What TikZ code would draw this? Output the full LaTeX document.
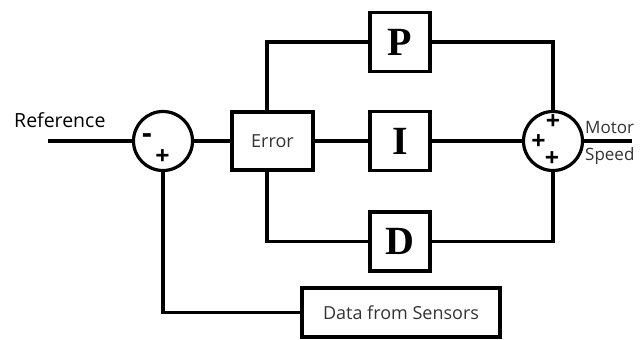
\documentclass[tikz,border=0pt]{standalone}
\usepackage{fontspec}
\setmainfont{Open Sans}
\newfontfamily\pidfont{Liberation Serif}
\usetikzlibrary{positioning}

\begin{document}
\begin{tikzpicture}[x=1pt, y=-1pt,
        every node/.style={font=\fontsize{18}{21}\selectfont},
        wire/.style={line width=3.2pt},
        sumnode/.style={draw, circle, line width=3.2pt, minimum size=59pt, inner sep=0pt},
        block/.style={draw, line width=3.2pt, minimum width=60pt, minimum height=59pt,
                      inner sep=0pt, font=\pidfont\bfseries\fontsize{40}{40}\selectfont},
        txtbox/.style={draw, line width=3.2pt, inner sep=0pt, text=black!80},
        sign/.style={inner sep=0pt, font=\bfseries\fontsize{25}{25}\selectfont},
        lbl/.style={inner sep=0pt, anchor=base west}
      ]
        \useasboundingbox (0,0) rectangle (641,340);

        \node[sumnode]                      (S1)  at (163,141) {};
        \node[txtbox, minimum width=81pt, minimum height=58pt] (Err) at (272.5,141) {Error};
        \node[block]                        (P)   at (400,42)  {P};
        \node[block]                        (I)   at (400,141) {I};
        \node[block]                        (D)   at (400,241.5) {D};
        \node[sumnode]                      (S2)  at (553,141) {};
        \node[txtbox, minimum width=198pt, minimum height=49pt] (Data) at (401,312.5) {Data from Sensors};

        \coordinate (refin) at (48,141);
        \coordinate (out)   at (632,141);
        \coordinate (split) at (267,141);

        % signs in the summing junctions
        \node[sign, font=\bfseries\fontsize{30}{30}\selectfont] (s1m) at (147,139) {-};
        \node[sign] (s1p) at (162.5,157) {+};
        \node[sign] (s2t) at (553,122) {+};
        \node[sign] (s2l) at (538.5,142) {+};
        \node[sign] (s2b) at (552,159.5) {+};

        % labels
        \node[lbl, font=\fontsize{19.5}{21}\selectfont] (ref) at (14,127) {Reference};
        \node[lbl, font=\fontsize{17}{18}\selectfont, text=black!80] (mot) at (585,133) {Motor};
        \node[lbl, font=\fontsize{17}{18}\selectfont, text=black!80] (spd) at (585,160) {Speed};

        \draw[wire] (refin) -- (S1.west);
        \draw[wire] (S1.east) -- (Err.west);
        \draw[wire] (Err.east) -- (I.west);
        \draw[wire] (split |- Err.north) |- (P.west);
        \draw[wire] (split |- Err.south) |- (D.west);
        \draw[wire] (P.east) -| (S2.north);
        \draw[wire] (I.east) -- (S2.west);
        \draw[wire] (D.east) -| (S2.south);
        \draw[wire] (S2.east) -- (out);
        \draw[wire] (S1.south) |- (Data.west);
      \end{tikzpicture}
\end{document}
